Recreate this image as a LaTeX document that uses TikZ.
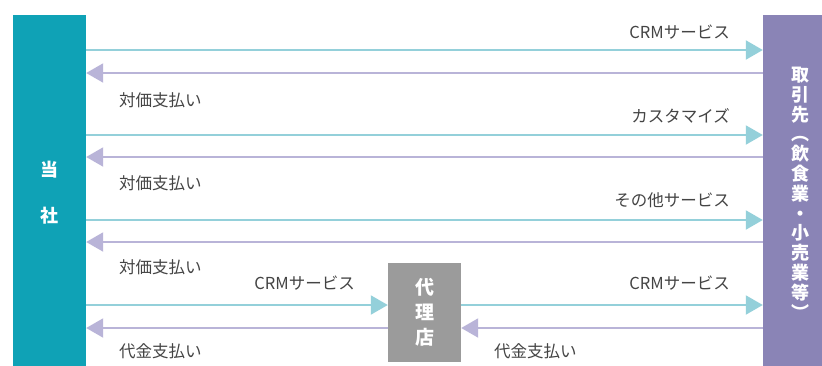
\documentclass[tikz,border=0pt]{standalone}
\usepackage{fontspec}
\setmainfont{Noto Sans CJK JP}
\usetikzlibrary{arrows.meta}
\definecolor{toshacol}{HTML}{0FA2B6}
\definecolor{torihikicol}{HTML}{8A84B6}
\definecolor{dairicol}{HTML}{9B9B9B}
\definecolor{svccol}{HTML}{94D0DA}
\definecolor{paycol}{HTML}{B9B4D8}
\definecolor{txtcol}{HTML}{444444}
\tikzset{
  party/.style={inner sep=0pt, text=white, align=center},
  svc/.style={line width=2pt, color=svccol, -{Triangle[length=17pt,width=19pt]}},
  pay/.style={line width=2pt, color=paycol, -{Triangle[length=17pt,width=19pt]}},
  lbl/.style={inner sep=0pt, text=txtcol, font=\fontsize{16.5}{18}\selectfont}
}
\begin{document}
\begin{tikzpicture}[x=1pt, y=-1pt]
			%%%%% START %%%%%
			\useasboundingbox[fill=white] (0, 0) rectangle (822, 365);
			
			\node[party, fill=toshacol, minimum width=73pt, minimum height=356pt,
				font=\fontsize{18}{46}\selectfont\bfseries] (tosha) at (49.5, 193) {当\\社};
			\node[party, fill=torihikicol, minimum width=74pt, minimum height=356pt,
				font=\fontsize{18}{19.8}\selectfont\bfseries] (torihiki) at (800, 193)
				{取\\引\\先\\︵\\飲\\食\\業\\・\\小\\売\\業\\等\\︶};
			\node[party, fill=dairicol, minimum width=73pt, minimum height=99pt,
				font=\fontsize{19}{25}\selectfont\bfseries] (dairi) at (424.5, 312.5) {代\\理\\店};
			
			\draw[svc] (tosha.east |- 0, 50) -- (torihiki.west |- 0, 50);
			\draw[pay] (torihiki.west |- 0, 73) -- (tosha.east |- 0, 73);
			\node[lbl, anchor=east] (svc1) at (730, 32) {CRMサービス};
			\node[lbl, anchor=west] (pay1) at (119, 100) {対価支払い};
			
			\draw[svc] (tosha.east |- 0, 135) -- (torihiki.west |- 0, 135);
			\draw[pay] (torihiki.west |- 0, 157) -- (tosha.east |- 0, 157);
			\node[lbl, anchor=east] (svc2) at (730, 116) {カスタマイズ};
			\node[lbl, anchor=west] (pay2) at (119, 183) {対価支払い};
			
			\draw[svc] (tosha.east |- 0, 220) -- (torihiki.west |- 0, 220);
			\draw[pay] (torihiki.west |- 0, 242) -- (tosha.east |- 0, 242);
			\node[lbl, anchor=east] (svc3) at (730, 200) {その他サービス};
			\node[lbl, anchor=west] (pay3) at (119, 267) {対価支払い};
			
			\draw[svc] (tosha.east |- 0, 305) -- (dairi.west |- 0, 305);
			\draw[pay] (dairi.west |- 0, 328) -- (tosha.east |- 0, 328);
			\draw[svc] (dairi.east |- 0, 305) -- (torihiki.west |- 0, 305);
			\draw[pay] (torihiki.west |- 0, 328) -- (dairi.east |- 0, 328);
			\node[lbl, anchor=east] (svc4) at (355, 283) {CRMサービス};
			\node[lbl, anchor=west] (pay4) at (119, 351) {代金支払い};
			\node[lbl, anchor=east] (svc5) at (730, 283) {CRMサービス};
			\node[lbl, anchor=west] (pay5) at (494, 351) {代金支払い};
			
			%%%%% END %%%%%
\end{tikzpicture}
\end{document}
